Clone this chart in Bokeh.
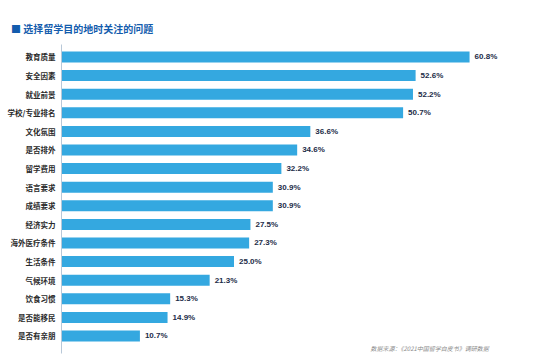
from bokeh.plotting import figure
from bokeh.models import Range1d, FixedTicker, ColumnDataSource, Label
from bokeh.core.properties import value
from bokeh.embed import file_html
from bokeh.resources import INLINE

categories = ["教育质量", "安全因素", "就业前景", "学校/专业排名", "文化氛围", "是否排外",
              "留学费用", "语言要求", "成绩要求", "经济实力", "海外医疗条件", "生活条件",
              "气候环境", "饮食习惯", "是否能移民", "是否有亲朋"]
values = [60.8, 52.6, 52.2, 50.7, 36.6, 34.6, 32.2, 30.9, 30.9, 27.5, 27.3, 25.0,
          21.3, 15.3, 14.9, 10.7]
title_text = "选择留学目的地时关注的问题"
source_text = "数据来源：《2021中国留学白皮书》调研数据"

FONT = "Noto Sans CJK SC"
idx = list(range(len(categories)))
src = ColumnDataSource(dict(
    y=idx, v=values, lbl=[f"{v:.1f}%" for v in values]
))

W, H = 541, 355
LEFT, TOP, BOTTOM = 61, 44, 2
PXX, PXY = 6.58, 18.6
x0 = -1.216
y0 = -0.672
p = figure(width=W, height=H, output_backend="svg", toolbar_location=None,
           x_range=Range1d(x0, x0 + (W - LEFT) / PXX),
           y_range=Range1d(y0 + (H - TOP - BOTTOM) / PXY, y0),
           min_border_left=LEFT, min_border_right=0, min_border_top=TOP,
           min_border_bottom=BOTTOM)
p.outline_line_color = None
p.background_fill_color = "white"
p.border_fill_color = "white"
p.grid.visible = False
p.xaxis.visible = False

p.title.text = "■ " + title_text
p.title.text_font = FONT
p.title.text_font_size = "10px"
p.title.text_font_style = "bold"
p.title.text_color = "#135cad"
p.title.align = "left"
p.title.offset = 10.5 - LEFT
p.title.standoff = 18

ya = p.yaxis[0]
ya.ticker = FixedTicker(ticks=idx)
ya.major_label_overrides = {i: c for i, c in enumerate(categories)}
ya.major_tick_line_color = None
ya.minor_tick_line_color = None
ya.major_tick_out = 0
ya.major_tick_in = 0
ya.minor_tick_out = 0
ya.axis_line_color = "#b8c8d8"
ya.axis_line_width = 1
ya.major_label_standoff = 6
ya.major_label_text_font = FONT
ya.major_label_text_font_size = "7.5px"
ya.major_label_text_color = "#2a2a2a"
ya.major_label_text_font_style = "bold"

p.hbar(y="y", right="v", left=x0, height=0.59, source=src,
       fill_color="#34a8e0", line_color=None)
p.text(x="v", y="y", text="lbl", source=src, x_offset=5,
       text_baseline="middle", text_align="left",
       text_font=value("Liberation Sans"), text_font_size="8px",
       text_font_style="bold", text_color="#1c2c48")

ft = Label(x=370 - LEFT, y=5.5, x_units="screen", y_units="screen",
           text=source_text, text_font=FONT, text_font_size="6px",
           text_font_style="italic", text_color="#8a8a8a",
           text_baseline="middle", text_align="left")
p.add_layout(ft)

open("out.html", "w").write(file_html(p, INLINE))
